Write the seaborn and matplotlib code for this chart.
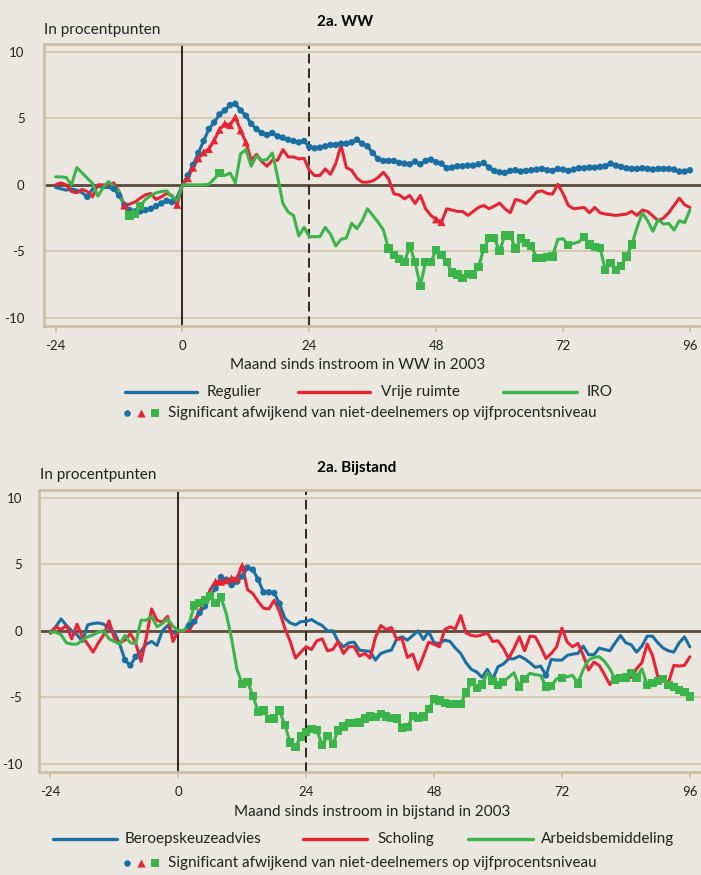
import pandas as pd
import seaborn as sns
import matplotlib.pyplot as plt

# maanden t.o.v. instroom
maanden = list(range(-24, 97))

# 2a. WW  (rijen van 12 maanden: -24..-13, -12..-1, 0..11, ... , 84..95, 96)
ww_regulier = [
    -0.2, -0.3, -0.4, -0.3, -0.4, -0.6, -0.9, -0.3, -0.1, -0.2, -0.2, -0.3,
    -0.8, -1.5, -1.9, -2.0, -2.0, -1.9, -1.8, -1.6, -1.4, -1.2, -1.3, -0.9,
    0.0, 0.7, 1.5, 2.4, 3.3, 4.2, 4.7, 5.3, 5.6, 6.0, 6.1, 5.6,
    5.2, 4.6, 4.2, 3.9, 3.75, 3.9, 3.65, 3.55, 3.4, 3.3, 3.2, 3.3,
    2.85, 2.75, 2.8, 2.9, 3.0, 3.0, 3.1, 3.1, 3.2, 3.4, 3.1, 2.9,
    2.4, 1.95, 1.8, 1.8, 1.8, 1.65, 1.6, 1.55, 1.75, 1.55, 1.8, 1.9,
    1.7, 1.6, 1.25, 1.3, 1.4, 1.4, 1.45, 1.45, 1.55, 1.65, 1.3, 1.05,
    0.95, 0.9, 1.05, 1.1, 1.0, 1.05, 1.1, 1.15, 1.2, 1.1, 1.05, 1.2,
    1.15, 1.05, 1.15, 1.25, 1.25, 1.3, 1.3, 1.35, 1.4, 1.6, 1.45, 1.35,
    1.25, 1.2, 1.2, 1.25, 1.2, 1.15, 1.2, 1.2, 1.2, 1.15, 1.0, 1.0,
    1.1]
ww_vrije_ruimte = [
    0.0, 0.15, 0.0, -0.5, -0.6, -0.35, -0.5, -0.9, 0.0, 0.0, 0.0, 0.15,
    -0.5, -1.55, -1.45, -1.3, -1.0, -0.75, -0.65, -1.1, -0.9, -0.65, -0.8, -1.5,
    0.0, 0.5, 1.3, 2.0, 2.45, 2.7, 3.35, 4.15, 4.6, 4.5, 5.1, 4.1,
    3.2, 1.85, 2.3, 1.75, 1.4, 1.85, 1.85, 2.65, 2.1, 2.1, 1.95, 2.0,
    1.1, 0.7, 0.7, 1.2, 0.8, 1.6, 3.0, 1.3, 1.1, 0.5, 0.2, 0.2,
    0.3, 0.55, 0.95, 0.45, -0.67, -0.75, -1.05, -0.8, -1.4, -0.8, -1.8, -2.3,
    -2.6, -2.8, -1.8, -1.9, -2.0, -2.0, -2.3, -2.0, -1.7, -1.55, -1.8, -1.6,
    -1.37, -1.8, -2.1, -1.1, -1.2, -1.4, -1.0, -0.54, -0.45, -0.65, -0.7, 0.04,
    -0.65, -1.55, -1.8, -1.75, -1.7, -2.1, -1.7, -2.1, -2.2, -2.25, -2.3, -2.25,
    -2.2, -2.0, -2.3, -1.9, -2.0, -2.35, -2.7, -2.5, -2.1, -1.55, -1.0, -1.5,
    -1.7]
ww_iro = [
    0.6, 0.6, 0.55, 0.0, 1.3, 0.9, 0.5, 0.1, -0.85, -0.2, 0.25, -0.1,
    -0.5, -1.6, -2.3, -2.2, -1.6, -1.1, -0.8, -0.6, -0.5, -0.45, -0.9, -1.2,
    0.0, 0.0, 0.0, 0.0, 0.0, 0.05, 0.45, 0.9, 0.7, 0.9, 0.15, 2.35,
    2.65, 1.4, 2.2, 1.85, 1.9, 2.4, 0.6, -1.4, -2.05, -2.3, -3.85, -3.2,
    -3.9, -3.9, -3.9, -3.2, -3.7, -4.6, -4.1, -4.0, -2.9, -3.3, -2.7, -1.8,
    -2.3, -2.8, -3.4, -4.8, -5.3, -5.6, -5.8, -4.6, -5.8, -7.6, -5.8, -5.8,
    -4.9, -5.3, -5.8, -6.6, -6.75, -7.0, -6.7, -6.75, -6.2, -4.8, -4.0, -4.0,
    -5.0, -3.8, -3.8, -4.8, -4.05, -4.4, -4.6, -5.5, -5.5, -5.45, -5.4, -4.1,
    -4.05, -4.55, -4.4, -4.3, -3.9, -4.5, -4.7, -4.75, -6.4, -5.9, -6.4, -6.1,
    -5.4, -4.5, -3.2, -2.1, -2.7, -3.5, -2.6, -2.95, -2.9, -3.4, -2.7, -2.85,
    -1.9]

# 2a. Bijstand
bs_beroepskeuze = [
    -0.1, 0.3, 0.9, 0.4, 0.0, -0.3, -0.8, 0.45, 0.55, 0.6, 0.5, 0.2,
    -0.1, -1.0, -2.2, -2.6, -1.95, -1.5, -1.0, -0.8, -1.1, 0.0, 0.4, -0.2,
    0.0, 0.0, 0.4, 0.7, 1.35, 1.85, 2.6, 3.2, 4.05, 3.85, 3.45, 3.7,
    4.1, 4.75, 4.6, 3.85, 2.9, 2.9, 2.85, 2.05, 0.95, 0.6, 0.45, 0.7,
    0.7, 0.85, 0.6, 0.4, 0.0, 0.0, -0.8, -1.2, -0.9, -0.85, -1.45, -1.5,
    -1.55, -2.2, -1.7, -1.55, -1.45, -0.6, -0.45, -0.7, -0.35, 0.0, -0.65, -0.05,
    -0.9, -0.95, -0.7, -0.8, -1.3, -1.7, -2.4, -2.9, -3.1, -3.5, -2.9, -3.65,
    -2.7, -2.5, -2.1, -2.1, -1.9, -2.1, -2.4, -2.75, -2.65, -3.35, -2.15, -2.2,
    -2.2, -1.85, -1.75, -1.7, -1.15, -1.8, -1.8, -1.3, -1.4, -1.5, -0.9, -0.35,
    -0.9, -1.05, -1.6, -1.15, -0.4, -0.4, -0.9, -1.3, -1.5, -1.6, -0.9, -0.45,
    -1.2]
bs_scholing = [
    -0.2, 0.3, 0.1, 0.4, -0.6, 0.5, -0.45, -1.0, -1.6, -0.9, -0.3, 0.75,
    -0.55, -0.9, -0.7, -0.2, -0.9, -2.3, -0.5, 1.65, 0.8, 0.65, 1.1, -0.8,
    0.0, 0.0, 0.0, 0.7, 1.5, 2.2, 3.1, 3.7, 3.7, 3.8, 3.95, 3.95,
    4.9, 3.1, 2.8, 2.2, 1.7, 1.65, 2.3, 1.45, 0.2, -0.8, -2.05, -1.6,
    -1.2, -1.4, -0.75, -0.6, -1.5, -1.4, -0.8, -1.7, -1.2, -1.2, -1.9, -1.7,
    -2.05, -0.5, 0.4, 0.1, 0.25, -0.65, -0.6, -2.0, -1.75, -2.9, -1.9, -0.85,
    -1.0, -1.2, 0.1, 0.3, 0.15, 1.15, -0.15, -0.35, -0.4, -0.3, -0.15, -0.8,
    -0.75, -1.3, -2.08, -1.33, -0.45, -1.5, -0.4, -0.45, -1.2, -2.08, -1.7, -1.2,
    0.2, -0.85, -1.2, -0.95, -1.85, -2.95, -2.35, -2.6, -3.3, -4.05, -3.45, -3.45,
    -3.5, -3.5, -2.85, -2.4, -1.0, -1.85, -3.45, -3.7, -3.9, -2.6, -2.65, -2.6,
    -1.95]
bs_arbeidsbemiddeling = [
    -0.1, -0.1, -0.3, -0.9, -1.0, -1.0, -0.7, -0.45, -0.3, -0.1, 0.0, -0.6,
    -0.8, -1.0, -0.35, -0.9, -0.95, 0.8, 0.8, 1.1, 0.3, 0.55, 0.9, 0.35,
    0.0, 0.0, 0.5, 1.9, 2.1, 2.3, 2.6, 2.1, 2.55, 1.3, -0.6, -2.9,
    -4.0, -3.85, -4.9, -6.1, -6.0, -6.65, -6.6, -6.0, -7.1, -8.4, -8.75, -7.95,
    -7.6, -7.4, -7.45, -8.6, -7.9, -8.5, -7.5, -7.2, -6.95, -6.95, -6.9, -6.6,
    -6.45, -6.5, -6.25, -6.45, -6.55, -6.6, -7.3, -7.25, -6.4, -6.55, -6.45, -5.9,
    -5.15, -5.25, -5.45, -5.5, -5.5, -5.5, -4.65, -3.85, -4.3, -4.05, -3.15, -3.75,
    -4.08, -3.85, -3.5, -3.15, -4.2, -3.6, -3.2, -3.3, -3.35, -4.2, -4.16, -3.6,
    -3.55, -3.45, -3.35, -3.96, -2.9, -2.2, -2.0, -1.95, -2.3, -2.85, -3.7, -3.55,
    -3.5, -3.15, -3.5, -2.85, -4.08, -3.9, -3.75, -3.6, -4.1, -4.25, -4.45, -4.6,
    -4.95]

# maanden waarin significant afwijkend van niet-deelnemers
sig_ww_regulier = [-18] + list(range(-13, -1)) + list(range(1, 97))
sig_ww_vrije_ruimte = [-11, -1] + list(range(1, 13)) + [48, 49]
sig_ww_iro = [-10, -9, -8, 7] + list(range(39, 71)) + [73] + list(range(76, 86))
sig_bs_beroepskeuze = [-10, -9, -8] + list(range(2, 20)) + [69]
sig_bs_scholing = list(range(7, 13))
sig_bs_arbeidsbemiddeling = (list(range(3, 9)) + list(range(12, 58)) + [59, 60, 61, 64, 65, 69, 70, 72, 75]
                             + list(range(82, 87)) + list(range(88, 97)))

BLAUW = '#1a6fa3'
ROOD = '#e52535'
GROEN = '#3bb54a'
BG = '#e9e7e0'
TAN = '#cdbfa3'
DONKER = '#33261c'

sns.set_theme(style='white')
plt.rcParams['font.family'] = ['Lato', 'DejaVu Sans']
plt.rcParams['axes.unicode_minus'] = False


def maak_frame(reeksen, sigs):
    rijen = []
    for naam, waarden in reeksen.items():
        for m, v in zip(maanden, waarden):
            rijen.append((naam, m, v, m in sigs[naam]))
    return pd.DataFrame(rijen, columns=['reeks', 'maand', 'waarde', 'sig'])


def teken_panel(ax, df, namen, ypad):
    ax.set_facecolor(BG)
    for y in (-10, -5, 5, 10):
        ax.axhline(y, color='#d3c6ac', lw=1.3, zorder=0)
    ax.axhline(0, color='#5b4b3b', lw=2.0, zorder=1)
    ax.axvline(0, color=DONKER, lw=1.4, zorder=1)
    ax.axvline(24, color=DONKER, lw=1.4, ls=(0, (5, 2.5)), zorder=1)

    pal = dict(zip(namen, [BLAUW, ROOD, GROEN]))
    sns.lineplot(data=df, x='maand', y='waarde', hue='reeks', hue_order=namen,
                 palette=pal, lw=2.2, errorbar=None, legend=False, ax=ax, zorder=3)
    sns.scatterplot(data=df[df['sig']], x='maand', y='waarde', hue='reeks',
                    hue_order=namen, palette=pal, style='reeks',
                    markers=dict(zip(namen, ['o', '^', 's'])),
                    size='reeks', sizes=dict(zip(namen, [22, 34, 36])),
                    linewidth=0, legend=False, ax=ax, zorder=4)

    ax.set_xlim(-26.2, 98.1)
    ax.set_ylim(-10.6, 10.6)
    ax.set_xticks([-24, 0, 24, 48, 72, 96])
    ax.set_xticklabels(['-24', '0', '24', '48', '72', '96'])
    ax.set_yticks([-10, -5, 0, 5, 10])
    ax.set_yticklabels(['-10', '-5', '0', '5', '10'])
    ax.tick_params(axis='y', length=9, width=1.3, color=TAN, pad=ypad,
                   labelsize=9.5, labelcolor='#222222')
    ax.tick_params(axis='x', length=4, width=1.3, color=TAN, pad=6,
                   labelsize=9.5, labelcolor='#222222', bottom=True)
    ax.set_xlabel('')
    ax.set_ylabel('')
    for kant in ('left', 'top', 'bottom'):
        ax.spines[kant].set_color(TAN)
        ax.spines[kant].set_linewidth(2)
    ax.spines['right'].set_visible(False)


fig = plt.figure(figsize=(7.01, 8.75), dpi=100)
fig.patch.set_facecolor(BG)

ww_namen = ['Regulier', 'Vrije ruimte', 'IRO']
bs_namen = ['Beroepskeuzeadvies', 'Scholing', 'Arbeidsbemiddeling']
df_ww = maak_frame(dict(zip(ww_namen, [ww_regulier, ww_vrije_ruimte, ww_iro])),
                   dict(zip(ww_namen, [sig_ww_regulier, sig_ww_vrije_ruimte, sig_ww_iro])))
df_bs = maak_frame(dict(zip(bs_namen, [bs_beroepskeuze, bs_scholing, bs_arbeidsbemiddeling])),
                   dict(zip(bs_namen, [sig_bs_beroepskeuze, sig_bs_scholing, sig_bs_arbeidsbemiddeling])))

W, H = 701, 875
ax1 = fig.add_axes([44 / W, 1 - 325.7 / H, (W - 44) / W, 281.7 / H])
ax2 = fig.add_axes([38.7 / W, 1 - 771.7 / H, (W - 38.7) / W, 281.7 / H])
teken_panel(ax1, df_ww, ww_namen, 5)
teken_panel(ax2, df_bs, bs_namen, 3)

# tekstlaag in pixelcoordinaten
ov = fig.add_axes([0, 0, 1, 1], zorder=10)
ov.set_xlim(0, W)
ov.set_ylim(H, 0)
ov.axis('off')
ov.patch.set_alpha(0)

TXT = '#222222'
ov.text(317, 22, '2a. WW', fontsize=11, fontweight='bold', color='black', va='center', ha='left')
ov.text(317, 468, '2a. Bijstand', fontsize=11, fontweight='bold', color='black', va='center', ha='left')
ov.text(44, 30, 'In procentpunten', fontsize=11, color=TXT, va='center', ha='left')
ov.text(40, 475, 'In procentpunten', fontsize=11, color=TXT, va='center', ha='left')
ov.text(358, 365, 'Maand sinds instroom in WW in 2003', fontsize=11, color=TXT, va='center', ha='center')
ov.text(372, 812, 'Maand sinds instroom in bijstand in 2003', fontsize=11, color=TXT, va='center', ha='center')

legenda = [
    (392, [(125, 197, 207, 'Regulier'), (298, 370, 381, 'Vrije ruimte'), (503, 577, 587, 'IRO')]),
    (839, [(53, 117, 125, 'Beroepskeuzeadvies'), (303, 367, 377, 'Scholing'),
           (468, 533, 541, 'Arbeidsbemiddeling')]),
]
for y, items in legenda:
    for (x0, x1, xt, label), kleur in zip(items, [BLAUW, ROOD, GROEN]):
        ov.plot([x0, x1], [y, y], color=kleur, lw=2.4)
        ov.text(xt, y, label, fontsize=11, color=TXT, va='center', ha='left')

for y in (413, 863):
    ov.scatter([127], [y], marker='o', s=22, color=BLAUW, linewidth=0)
    ov.scatter([141], [y], marker='^', s=34, color=ROOD, linewidth=0)
    ov.scatter([155], [y], marker='s', s=36, color=GROEN, linewidth=0)
    ov.text(168, y, 'Significant afwijkend van niet-deelnemers op vijfprocentsniveau',
            fontsize=11, color=TXT, va='center', ha='left')

fig.savefig('out.png', dpi=100, facecolor=BG)
